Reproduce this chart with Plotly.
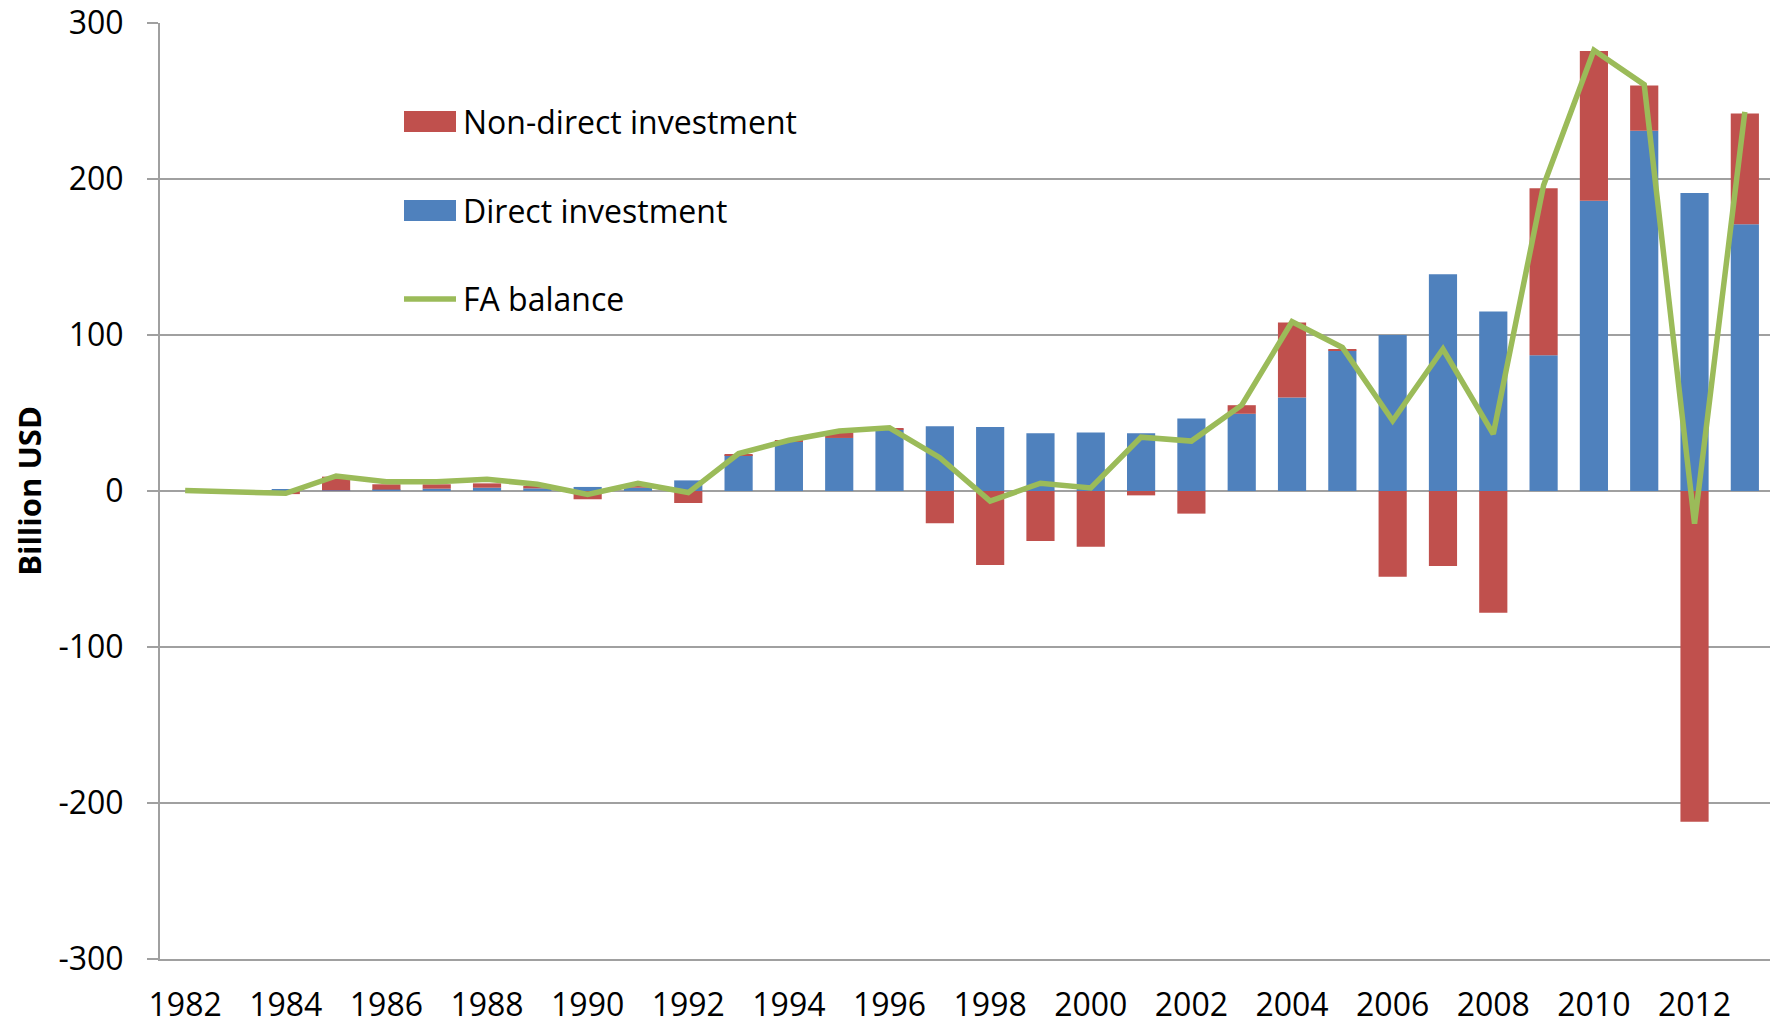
import plotly.graph_objects as go

years = list(range(1982, 2014))

direct_investment = [None, None, 0.8, 0.4, 0.9, 1.5, 2.1, 1.7, 2.6, 2.1, 6.8,
                     23, 32, 34, 39.5, 41.5, 41, 37, 37.5, 37, 46.5, 49.5,
                     60, 90, 100, 139, 115, 87, 186, 231, 191, 171]

non_direct_investment = [None, None, -2, 8.8, 3.4, 2.8, 2.8, 1.5, -5.3, 1.5, -7.7,
                         0.5, 0.5, 3.5, 0.5, -20.7, -47.4, -32, -35.7, -2.8, -14.5, 5.5,
                         48, 1, -55, -48, -78, 107, 96, 29, -212, 71]

fa_balance = [0.3, None, -1.5, 9.6, 6, 6, 7.5, 4.3, -2.2, 5, -1,
              24, 32.5, 38.5, 40.5, 21.4, -6.5, 5, 2, 34.5, 32, 55,
              108.5, 92, 45, 91, 36.5, 196, 282.5, 260.5, -21, 243]

y_ticks = [-300, -200, -100, 0, 100, 200, 300]
y_tick_labels = [str(v) for v in y_ticks]

legend_labels = ["Non-direct investment", "Direct investment", "FA balance"]

RED = "#C0504D"
BLUE = "#4F81BD"
GREEN = "#9BBB59"
GRID = "#A0A0A0"
FONT = "Open Sans"

fig = go.Figure()
fig.add_trace(go.Bar(x=years, y=direct_investment, name=legend_labels[1],
                     marker=dict(color=BLUE, line=dict(width=0))))
fig.add_trace(go.Bar(x=years, y=non_direct_investment, name=legend_labels[0],
                     marker=dict(color=RED, line=dict(width=0))))
fig.add_trace(go.Scatter(x=years, y=fa_balance, name=legend_labels[2], mode="lines",
                         connectgaps=True,
                         line=dict(color=GREEN, width=5.5)))

# page has an 8px body margin; size the figure to fit the 1779x1023 window
OFF = 8
W, H = 1771, 1015
L, R, T, B = 152, 9, 15, 64
pw, ph = W - L - R, H - T - B


def px(xp):
    return (xp - OFF - L) / pw


def py(yp):
    return (H - B - (yp - OFF)) / ph


# custom legend (Excel-style wide patches)
shapes = [
    dict(type="rect", xref="paper", yref="paper", x0=px(404), x1=px(456),
         y0=py(132), y1=py(111), fillcolor=RED, line=dict(width=0)),
    dict(type="rect", xref="paper", yref="paper", x0=px(404), x1=px(456),
         y0=py(221), y1=py(200), fillcolor=BLUE, line=dict(width=0)),
    dict(type="line", xref="paper", yref="paper", x0=px(404), x1=px(456),
         y0=py(299), y1=py(299), line=dict(color=GREEN, width=5.5)),
]
annotations = []
for lab, yc in zip(legend_labels, [122, 210.5, 299]):
    annotations.append(dict(text=lab, xref="paper", yref="paper", x=px(461), y=py(yc),
                            xanchor="left", yanchor="middle", showarrow=False,
                            font=dict(family=FONT, size=32, color="black")))

fig.update_layout(
    width=W, height=H,
    margin=dict(l=L, r=R, t=T, b=B, pad=0, autoexpand=False),
    paper_bgcolor="white", plot_bgcolor="white",
    barmode="relative", bargap=0.44,
    showlegend=False,
    shapes=shapes, annotations=annotations,
    font=dict(family=FONT, size=32, color="black"),
)
fig.update_xaxes(
    range=[1981.5, 2013.5], tickmode="linear", tick0=1982, dtick=2,
    showgrid=False, zeroline=False, automargin=False, ticklabeloverflow="allow",
    showline=True, linecolor=GRID, linewidth=2,
    ticks="", ticklabelstandoff=17,
    tickfont=dict(family=FONT, size=32, color="black"),
)
fig.update_yaxes(
    range=[-300, 300], tickvals=y_ticks, ticktext=y_tick_labels,
    showgrid=True, gridcolor=GRID, gridwidth=2, zeroline=False, automargin=False,
    ticklabeloverflow="allow",
    showline=True, linecolor=GRID, linewidth=2,
    ticks="outside", ticklen=11, tickcolor=GRID, tickwidth=2,
    ticklabelstandoff=17,
    tickfont=dict(family=FONT, size=32, color="black"),
    title=dict(text="<b>Billion USD</b>", font=dict(family=FONT, size=31, color="black"),
               standoff=14),
)

fig.write_html("out.html")
